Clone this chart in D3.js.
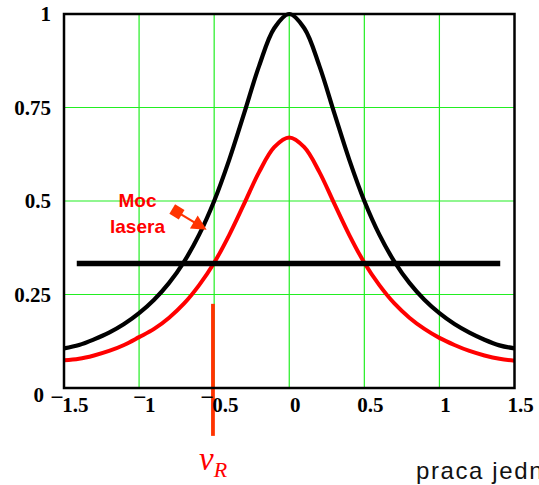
<!DOCTYPE html>
<html>
<head>
<meta charset="utf-8">
<script src="https://cdn.jsdelivr.net/npm/d3@7"></script>
<style>
  html, body { margin: 0; padding: 0; background: #fff; }
  svg { display: block; }
</style>
</head>
<body>
<svg id="chart" width="539" height="485"></svg>
<script>
// Detuning axis (in units of the cavity half-width) and the two response curves
const detuning = [-1.5, -1.4, -1.3, -1.2, -1.1, -1.0, -0.9, -0.8, -0.7, -0.6, -0.5, -0.4, -0.3, -0.2, -0.1, 0,
                  0.1, 0.2, 0.3, 0.4, 0.5, 0.6, 0.7, 0.8, 0.9, 1.0, 1.1, 1.2, 1.3, 1.4, 1.5];
const cavityResponse = [0.106, 0.115, 0.130, 0.148, 0.171, 0.200, 0.236, 0.281, 0.338, 0.410, 0.500, 0.610, 0.735, 0.862, 0.962, 1.000,
                        0.962, 0.862, 0.735, 0.610, 0.500, 0.410, 0.338, 0.281, 0.236, 0.200, 0.171, 0.148, 0.129, 0.114, 0.106];
const laserPower = [0.074, 0.078, 0.087, 0.099, 0.115, 0.136, 0.158, 0.188, 0.226, 0.275, 0.335, 0.409, 0.493, 0.578, 0.644, 0.670,
                    0.644, 0.578, 0.493, 0.409, 0.335, 0.275, 0.226, 0.188, 0.158, 0.134, 0.115, 0.099, 0.087, 0.078, 0.073];

// Threshold level and its horizontal extent
const thresholdLevel = 0.333;
const thresholdSpan = [-1.415, 1.405];

// Resonance marker (detuning, vertical extent)
const resonanceDetuning = -0.5;
const resonanceSpan = [0.225, -0.128];

// Ticks
const xTicks = [-1.5, -1, -0.5, 0, 0.5, 1, 1.5];
const xTickLabels = ["\u00AF1.5", "\u00AF1", "\u00AF0.5", "0", "0.5", "1", "1.5"];
const yTicks = [0, 0.25, 0.5, 0.75, 1];
const yTickLabels = ["0", "0.25", "0.5", "0.75", "1"];
const xGrid = [-1, -0.5, 0, 0.5, 1];
const yGrid = [0.25, 0.5, 0.75];

// Annotation
const annotationLines = ["Moc", "lasera"];
const annotationArrow = [[-0.748, 0.471], [-0.55, 0.423]];

const svg = d3.select("#chart");
const x = d3.scaleLinear().domain([-1.5, 1.5]).range([64, 514.5]);
const y = d3.scaleLinear().domain([0, 1]).range([388, 14]);

const gridColor = "#22ee22";
const laserRed = "#ff0000";
const markerOrange = "#ff3300";

// Grid
svg.append("g").selectAll("line").data(xGrid).join("line")
  .attr("x1", d => x(d)).attr("x2", d => x(d))
  .attr("y1", y(0)).attr("y2", y(1))
  .attr("stroke", gridColor).attr("stroke-width", 1.2);
svg.append("g").selectAll("line").data(yGrid).join("line")
  .attr("x1", x(-1.5)).attr("x2", x(1.5))
  .attr("y1", d => y(d)).attr("y2", d => y(d))
  .attr("stroke", gridColor).attr("stroke-width", 1.2);

// Resonance marker
svg.append("line")
  .attr("x1", x(resonanceDetuning) - 1.2).attr("x2", x(resonanceDetuning) - 1.2)
  .attr("y1", y(resonanceSpan[0])).attr("y2", y(resonanceSpan[1]))
  .attr("stroke", markerOrange).attr("stroke-width", 3.8);

// Curves
const line = d3.line()
  .x((d, i) => x(detuning[i]))
  .y(d => y(d))
  .curve(d3.curveCatmullRom.alpha(0.5));

svg.append("path").datum(laserPower)
  .attr("d", line).attr("fill", "none")
  .attr("stroke", laserRed).attr("stroke-width", 4).attr("stroke-linejoin", "round");
svg.append("path").datum(cavityResponse)
  .attr("d", line).attr("fill", "none")
  .attr("stroke", "#000").attr("stroke-width", 4.2).attr("stroke-linejoin", "round");

// Threshold
svg.append("line")
  .attr("x1", x(thresholdSpan[0])).attr("x2", x(thresholdSpan[1]))
  .attr("y1", y(thresholdLevel)).attr("y2", y(thresholdLevel))
  .attr("stroke", "#000").attr("stroke-width", 5.5);

// Frame
svg.append("rect")
  .attr("x", x(-1.5)).attr("y", y(1))
  .attr("width", x(1.5) - x(-1.5)).attr("height", y(0) - y(1))
  .attr("fill", "none").attr("stroke", "#000").attr("stroke-width", 2.5);

// Tick labels
const tickFont = "'Liberation Serif', 'Times New Roman', serif";
svg.append("g").selectAll("text").data(xTicks).join("text")
  .attr("x", d => x(d) + 6)
  .attr("y", 412)
  .attr("text-anchor", "middle")
  .attr("font-family", tickFont).attr("font-weight", "bold").attr("font-size", 21)
  .text((d, i) => xTickLabels[i]);

svg.append("g").selectAll("text").data(yTicks).join("text")
  .attr("x", d => d === 0 ? 44 : 51)
  .attr("y", d => d === 0 ? y(d) + 14 : y(d) + 7)
  .attr("text-anchor", "end")
  .attr("font-family", tickFont).attr("font-weight", "bold").attr("font-size", 21)
  .text((d, i) => yTickLabels[i]);

// Annotation text and arrow
svg.append("g").selectAll("text").data(annotationLines).join("text")
  .attr("x", 137.5)
  .attr("y", (d, i) => 207 + i * 26)
  .attr("text-anchor", "middle")
  .attr("font-family", "'Liberation Sans', Arial, sans-serif")
  .attr("font-weight", "bold").attr("font-size", 19)
  .attr("fill", laserRed)
  .text(d => d);

const [a0, a1] = annotationArrow;
const ax0 = x(a0[0]), ay0 = y(a0[1]), ax1 = x(a1[0]), ay1 = y(a1[1]);
const rad = Math.atan2(ay1 - ay0, ax1 - ax0);
const ang = rad * 180 / Math.PI;
svg.append("line")
  .attr("x1", ax0).attr("y1", ay0)
  .attr("x2", ax1 - 10 * Math.cos(rad)).attr("y2", ay1 - 10 * Math.sin(rad))
  .attr("stroke", markerOrange).attr("stroke-width", 2.2);
svg.append("rect")
  .attr("x", -5.5).attr("y", -5.5).attr("width", 11).attr("height", 11)
  .attr("transform", `translate(${ax0},${ay0}) rotate(${ang})`)
  .attr("fill", markerOrange);
svg.append("path")
  .attr("d", "M0,0 L-15,-7.5 L-15,7.5 Z")
  .attr("transform", `translate(${ax1},${ay1}) rotate(${ang})`)
  .attr("fill", markerOrange);

// Resonance label
const nu = svg.append("text")
  .attr("x", 199).attr("y", 470)
  .attr("font-family", tickFont).attr("font-style", "italic")
  .attr("fill", laserRed);
nu.append("tspan").attr("font-size", 33).text("\u03BD");
nu.append("tspan").attr("font-size", 22).attr("dy", 7).text("R");

// Axis caption (runs past the right edge)
svg.append("text")
  .attr("x", 416).attr("y", 479)
  .attr("font-family", "'Liberation Sans', Arial, sans-serif")
  .attr("font-size", 24)
  .attr("letter-spacing", 1.6)
  .attr("fill", "#111")
  .text("praca jednostkowa");
</script>
</body>
</html>
